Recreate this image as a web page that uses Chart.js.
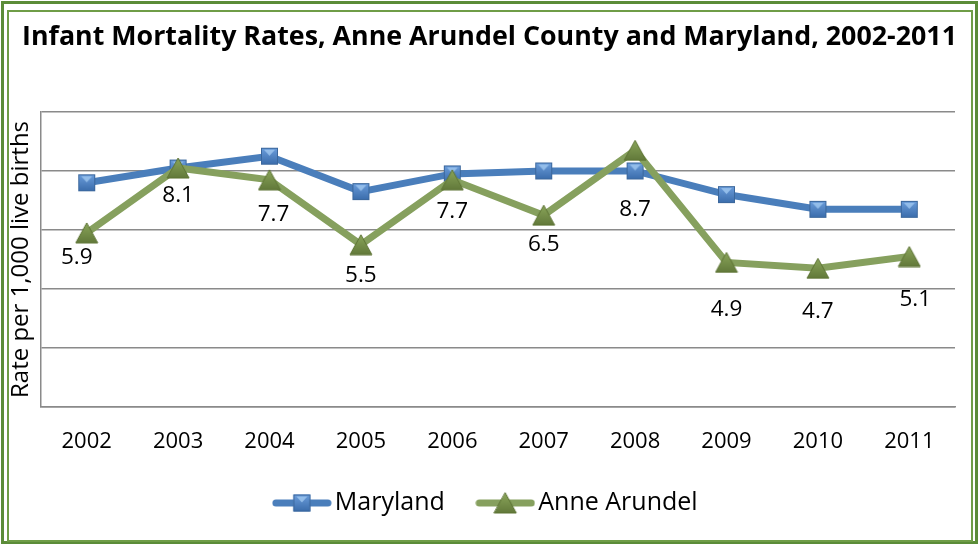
<!DOCTYPE html>
<html>
<head>
<meta charset="utf-8">
<script src="https://cdn.jsdelivr.net/npm/chart.js@4.4.1/dist/chart.umd.min.js"></script>
<style>
  html, body { margin: 0; padding: 0; background: #fff; }
  #wrap { position: relative; width: 979px; height: 545px; }
  #chart { position: absolute; left: 0; top: 0; }
  .frame { position: absolute; box-sizing: border-box; pointer-events: none; }
  #outer { left: 1px; top: 1px; width: 977px; height: 543px; border: 3px solid #5b8c38; }
  #inner { left: 7px; top: 10px; width: 966px; height: 532px; border: 2px solid #6f9d47; }
</style>
</head>
<body>
<div id="wrap">
  <canvas id="chart" width="979" height="545"></canvas>
  <div class="frame" id="outer"></div>
  <div class="frame" id="inner"></div>
</div>
<script>
// Chart data
const years = ['2002', '2003', '2004', '2005', '2006', '2007', '2008', '2009', '2010', '2011'];
const maryland = [7.6, 8.1, 8.5, 7.3, 7.9, 8.0, 8.0, 7.2, 6.7, 6.7];
const anneArundel = [5.9, 8.1, 7.7, 5.5, 7.7, 6.5, 8.7, 4.9, 4.7, 5.1];
const seriesNames = ['Maryland', 'Anne Arundel'];

const blueLine = '#4a7ebb';
const greenLine = '#86a05e';

// Draw the Excel-like markers into small canvases
function squareMarker(ctx, cx, cy) {
    const s = 17;
    const x = cx - s / 2, y = cy - s / 2;
    const g = ctx.createLinearGradient(0, y, 0, y + s);
    g.addColorStop(0, '#6b9ddb');
    g.addColorStop(1, '#3a6cab');
    ctx.fillStyle = g;
    ctx.fillRect(x, y, s, s);
    ctx.fillStyle = 'rgba(160,200,240,0.8)';
    ctx.beginPath();
    ctx.moveTo(x + 3, y + 2);
    ctx.lineTo(x + s - 3, y + 2);
    ctx.lineTo(cx, y + 8);
    ctx.closePath();
    ctx.fill();
    ctx.strokeStyle = '#3b679c';
    ctx.lineWidth = 1;
    ctx.strokeRect(x + 0.5, y + 0.5, s - 1, s - 1);
}

function triangleMarker(ctx, cx, cy) {
    const w = 22, h = 20;
    const g = ctx.createLinearGradient(0, cy - h / 2, 0, cy + h / 2);
    g.addColorStop(0, '#8aa55a');
    g.addColorStop(1, '#62793a');
    ctx.fillStyle = g;
    ctx.beginPath();
    ctx.moveTo(cx, cy - h / 2);
    ctx.lineTo(cx + w / 2, cy + h / 2);
    ctx.lineTo(cx - w / 2, cy + h / 2);
    ctx.closePath();
    ctx.fill();
    ctx.strokeStyle = '#5c7233';
    ctx.lineWidth = 1;
    ctx.stroke();
}

function makeMarker(drawFn, w, h) {
    const c = document.createElement('canvas');
    c.width = w;
    c.height = h;
    drawFn(c.getContext('2d'), w / 2, h / 2);
    return c;
}

function makeLegendIcon(drawFn, color) {
    const c = document.createElement('canvas');
    c.width = 60;
    c.height = 24;
    const ctx = c.getContext('2d');
    ctx.strokeStyle = color;
    ctx.lineWidth = 7;
    ctx.lineCap = 'round';
    ctx.beginPath();
    ctx.moveTo(4, 12);
    ctx.lineTo(56, 12);
    ctx.stroke();
    drawFn(ctx, 30, 12);
    return c;
}

const squareImg = makeMarker(squareMarker, 19, 19);
const triangleImg = makeMarker(triangleMarker, 24, 22);
const legendIcons = [makeLegendIcon(squareMarker, blueLine), makeLegendIcon(triangleMarker, greenLine)];

// Labels under the Anne Arundel points
const labelPlugin = {
    id: 'pointLabels',
    afterDatasetsDraw(chart, args, opts) {
        const ctx = chart.ctx;
        const meta = chart.getDatasetMeta(1);
        ctx.save();
        ctx.font = '22.5px "Open Sans"';
        ctx.fillStyle = '#000';
        ctx.textAlign = 'center';
        ctx.textBaseline = 'middle';
        meta.data.forEach((pt, i) => {
            ctx.fillText(anneArundel[i].toFixed(1), pt.x + opts.dx[i], pt.y + opts.dy[i]);
        });
        ctx.restore();
    }
};

const gridGrey = '#8a8a8a';

new Chart(document.getElementById('chart'), {
    type: 'line',
    data: {
        labels: years,
        datasets: [
            {
                label: seriesNames[0],
                data: maryland,
                borderColor: blueLine,
                borderWidth: 7,
                pointStyle: squareImg,
                order: 1,
                tension: 0
            },
            {
                label: seriesNames[1],
                data: anneArundel,
                borderColor: greenLine,
                borderWidth: 7,
                pointStyle: triangleImg,
                order: 0,
                tension: 0
            }
        ]
    },
    options: {
        responsive: false,
        animation: false,
        layout: { padding: { left: 0, right: 0, top: 0, bottom: 19.5 } },
        scales: {
            x: {
                offset: true,
                grid: { display: false, drawTicks: false },
                border: { display: true, color: gridGrey, width: 1.5 },
                ticks: { color: '#000', font: { family: 'Open Sans', size: 22 }, padding: 22 },
                afterFit(scale) { scale.height = 43.5; }
            },
            y: {
                min: 0,
                max: 10,
                ticks: { display: false, stepSize: 2 },
                grid: { color: gridGrey, lineWidth: 1.5, drawTicks: false },
                border: { display: true, color: gridGrey, width: 1.5 },
                title: {
                    display: true,
                    text: 'Rate per 1,000 live births',
                    color: '#000',
                    font: { family: 'Open Sans', size: 24 },
                    padding: { top: 7, bottom: 0 }
                },
                afterFit(scale) { scale.width = 41; }
            },
            yR: {
                position: 'right',
                display: true,
                ticks: { display: false },
                grid: { display: false },
                border: { display: false },
                afterFit(scale) { scale.width = 24; }
            }
        },
        plugins: {
            title: {
                display: true,
                text: 'Infant Mortality Rates, Anne Arundel County and Maryland, 2002-2011',
                color: '#000',
                font: { family: 'Open Sans', size: 26.8, weight: 'bold' },
                padding: { top: 21, bottom: 58.8 }
            },
            legend: {
                position: 'bottom',
                labels: {
                    usePointStyle: true,
                    pointStyleWidth: 41,
                    padding: 40,
                    color: '#000',
                    font: { family: 'Open Sans', size: 25 },
                    generateLabels(chart) {
                        return chart.data.datasets.map((ds, i) => ({
                            text: ds.label,
                            pointStyle: legendIcons[i],
                            fillStyle: ds.borderColor,
                            strokeStyle: ds.borderColor,
                            lineWidth: 0,
                            hidden: false,
                            datasetIndex: i
                        }));
                    }
                }
            },
            tooltip: { enabled: false },
            pointLabels: {
                dx: [-10, 0, 4, 0, 0, 0, 0, 0, 0, 6],
                dy: [25, 28, 35, 31, 32, 29, 59, 47, 43, 43]
            }
        }
    },
    plugins: [labelPlugin]
});
</script>
</body>
</html>
